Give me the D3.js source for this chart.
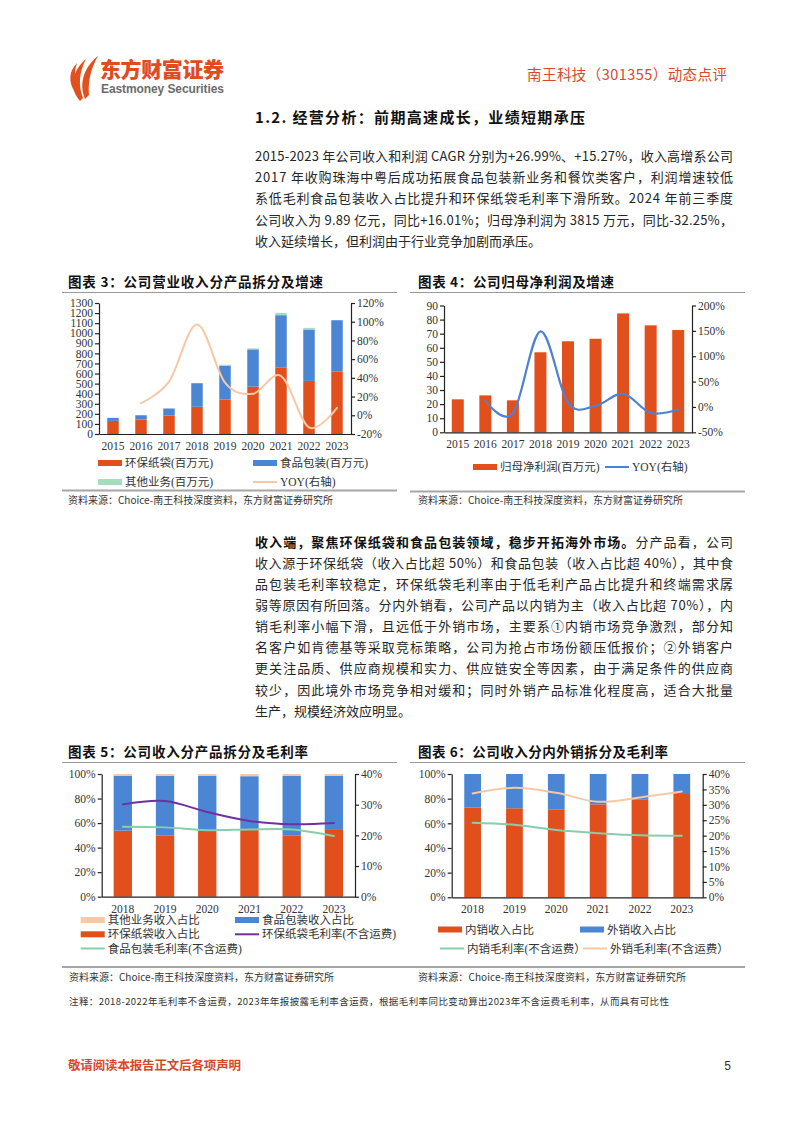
<!DOCTYPE html>
<html><head><meta charset="utf-8">
<script src="https://cdn.jsdelivr.net/npm/d3@7"></script>
<style>body{margin:0;background:#fff}</style>
</head><body>
<svg id="page" width="802" height="1133" xmlns="http://www.w3.org/2000/svg"></svg>
<script>
// ---------------- DATA ----------------
const years9 = ["2015","2016","2017","2018","2019","2020","2021","2022","2023"];
const paperRev = [130,143,183,270,343,470,658,527,619];      // 环保纸袋(百万元)
const foodRev  = [30,43,70,234,335,370,521,510,510];         // 食品包装(百万元)
const otherRev = [0,0,0,0,10,10,23,16,0];                     // 其他业务(百万元)
const revYoy   = [null,13,36,97,35,23,42,-13,8];              // YOY(右轴) %
const netProfit = [23.4,26.2,22.7,56.8,64.6,66.4,84.4,75.9,72.6]; // 归母净利润(百万元)
const profitYoy = [null,12,-13,149,8,2,26,-12,-5];            // YOY(右轴) %
const years6 = ["2018","2019","2020","2021","2022","2023"];
const paperShare = [53.8,49.7,53.8,54.4,49.7,54.4];   // 环保纸袋收入占比 %
const foodShare  = [44.6,48.7,44.6,43.8,48.7,44.0];   // 食品包装收入占比 %
const otherShare = [1.6,1.6,1.6,1.8,1.6,1.6];         // 其他业务收入占比 %
const paperGM = [30.1,31.2,27.6,24.7,23.6,24.0];      // 环保纸袋毛利率(不含运费)
const foodGM  = [22.8,22.6,21.7,21.9,21.9,19.8];      // 食品包装毛利率(不含运费)
const domShare = [72.7,72.2,71.4,75.4,79.5,83.8];     // 内销收入占比
const expShare = [27.3,27.8,28.6,24.6,20.5,16.2];     // 外销收入占比
const domGM = [24.2,23.5,21.8,20.8,20.1,20.0];        // 内销毛利率(不含运费)
const expGM = [33.7,35.5,33.9,31.0,32.4,34.3];        // 外销毛利率(不含运费)
const ticksRev = [0,100,200,300,400,500,600,700,800,900,1000,1100,1200,1300];
const ticksRevYoy = [-20,0,20,40,60,80,100,120];
const ticksProfit = [0,10,20,30,40,50,60,70,80,90];
const ticksProfitYoy = [-50,0,50,100,150,200];
const ticksPct = [0,20,40,60,80,100];
const ticksGM5 = [0,10,20,30,40];
const ticksGM6 = [0,5,10,15,20,25,30,35,40];

// ---------------- STYLE ----------------
const CJK = "'Noto Sans CJK SC', 'Noto Sans', sans-serif";
const SERIF = "'Liberation Serif', 'Noto Sans CJK SC', serif";
const C = {orange:"#E1501C", blue:"#4A86D4", mint:"#A5DCBD", peach:"#F7C8A6",
           purple:"#7030A0", green:"#86CFAA", lineBlue:"#4D82D2", red:"#D9472B"};

const svg = d3.select("#page");

function T(x, y, s, o = {}) {
  const t = svg.append("text").attr("x", x).attr("y", y).text(s)
    .attr("font-family", o.ff || CJK).attr("font-size", o.fs || 13)
    .attr("fill", o.fill || "#222");
  if (o.fw) t.attr("font-weight", o.fw);
  if (o.anchor) t.attr("text-anchor", o.anchor);
  if (o.len) t.attr("textLength", o.len).attr("lengthAdjust", "spacing");
  return t;
}
function hline(x1, x2, y, col, w) {
  svg.append("line").attr("x1", x1).attr("x2", x2).attr("y1", y).attr("y2", y)
    .attr("stroke", col).attr("stroke-width", w);
}

// ---------------- HEADER ----------------
const logo = svg.append("g").attr("fill", "#E2501E");
logo.append("path").attr("d", "M80,101 C69,88 71,72 86,59 C79,72 78,86 83,98 Z");
logo.append("path").attr("d", "M85,99 C79,84 83,68 98,56 C90,70 88,83 89,95 Z");
logo.append("path").attr("d", "M75,92 C68,82 69,71 77,63 C74,72 74,81 78,90 Z");
T(100, 77, "东方财富证券", {fs: 21, fw: 900, fill: "#E04B1F", len: 124});
T(101, 93, "Eastmoney Securities", {ff: "'Liberation Sans', Arial, sans-serif", fs: 12, fw: 700, fill: "#6b6b6b", len: 123});
T(727, 80, "南王科技（301355）动态点评", {fs: 14.5, fill: C.red, anchor: "end", len: 200});

// ---------------- HEADING & PARAGRAPH 1 ----------------
T(255, 123, "1.2.  经营分析：前期高速成长，业绩短期承压", {fs: 15, fw: 700, fill: "#111", len: 330});
const para1 = [
  "2015-2023 年公司收入和利润 CAGR 分别为+26.99%、+15.27%，收入高增系公司",
  "2017 年收购珠海中粤后成功拓展食品包装新业务和餐饮类客户，利润增速较低",
  "系低毛利食品包装收入占比提升和环保纸袋毛利率下滑所致。2024 年前三季度",
  "公司收入为 9.89 亿元，同比+16.01%；归母净利润为 3815 万元，同比-32.25%，",
  "收入延续增长，但利润由于行业竞争加剧而承压。"
];
para1.forEach((s, i) => T(255, 161 + i * 21.2, s, {fs: 13, fill: "#262626", len: i < 4 ? 478 : null}));

// ---------------- PARAGRAPH 2 ----------------
const p2first = svg.append("text").attr("x", 255).attr("y", 546.5)
  .attr("font-family", CJK).attr("font-size", 13).attr("fill", "#262626")
  .attr("textLength", 478).attr("lengthAdjust", "spacing");
p2first.append("tspan").attr("font-weight", 700).attr("fill", "#111").text("收入端，聚焦环保纸袋和食品包装领域，稳步开拓海外市场。");
p2first.append("tspan").text("分产品看，公司");
const para2 = [
  "收入源于环保纸袋（收入占比超 50%）和食品包装（收入占比超 40%），其中食",
  "品包装毛利率较稳定，环保纸袋毛利率由于低毛利产品占比提升和终端需求孱",
  "弱等原因有所回落。分内外销看，公司产品以内销为主（收入占比超 70%），内",
  "销毛利率小幅下滑，且远低于外销市场，主要系①内销市场竞争激烈，部分知",
  "名客户如肯德基等采取竞标策略，公司为抢占市场份额压低报价；②外销客户",
  "更关注品质、供应商规模和实力、供应链安全等因素，由于满足条件的供应商",
  "较少，因此境外市场竞争相对缓和；同时外销产品标准化程度高，适合大批量",
  "生产，规模经济效应明显。"
];
para2.forEach((s, i) => T(255, 546.5 + (i + 1) * 21.15, s, {fs: 13, fill: "#262626", len: i < 7 ? 478 : null}));

// ---------------- CHART HELPERS ----------------
function chart(cfg) {
  const g = svg.append("g");
  const x = d3.scaleBand().domain(cfg.cats).range([cfg.x0, cfg.x1]).paddingInner(cfg.pad).paddingOuter(cfg.pad / 2);
  const yL = d3.scaleLinear().domain(cfg.lDom).range([cfg.yBot, cfg.yTop]);
  const yR = d3.scaleLinear().domain(cfg.rDom).range([cfg.yBot, cfg.yTop]);

  // stacked bars
  const keys = cfg.stacks.map((s, i) => "k" + i);
  const table = cfg.cats.map((c, j) => {
    const row = {cat: c};
    cfg.stacks.forEach((s, i) => row["k" + i] = s.values[j]);
    return row;
  });
  const series = d3.stack().keys(keys)(table);
  series.forEach((ser, i) => {
    g.append("g").attr("fill", cfg.stacks[i].color).selectAll("rect").data(ser).join("rect")
      .attr("x", d => x(d.data.cat)).attr("width", x.bandwidth())
      .attr("y", d => yL(d[1])).attr("height", d => Math.max(0, yL(d[0]) - yL(d[1])));
  });

  // axes
  const axL = d3.axisLeft(yL).tickValues(cfg.lTicks).tickSize(4).tickSizeOuter(0).tickFormat(cfg.lFmt);
  const axR = d3.axisRight(yR).tickValues(cfg.rTicks).tickSize(4).tickSizeOuter(0).tickFormat(cfg.rFmt);
  const gl = g.append("g").attr("transform", `translate(${cfg.x0},0)`).call(axL);
  const gr = g.append("g").attr("transform", `translate(${cfg.x1},0)`).call(axR);
  const gb = g.append("g").attr("transform", `translate(0,${cfg.yBot})`)
    .call(d3.axisBottom(x).tickSize(0).tickSizeOuter(0).tickPadding(cfg.bPad || 8));
  [gl, gr, gb].forEach(a => {
    a.selectAll("path,line").attr("stroke", "#222").attr("stroke-width", 1.2);
    a.selectAll("text").attr("font-family", SERIF).attr("font-size", 11.5).attr("fill", "#333");
  });
  gl.selectAll("text").attr("x", -6);
  gr.selectAll("text").attr("x", 6);

  // lines
  cfg.lines.forEach(l => {
    const line = d3.line().defined(d => d.v != null)
      .x(d => x(d.c) + x.bandwidth() / 2).y(d => yR(d.v))
      .curve(d3.curveCardinal.tension(0));
    g.append("path").datum(cfg.cats.map((c, j) => ({c, v: l.values[j]})))
      .attr("d", line).attr("fill", "none").attr("stroke", l.color)
      .attr("stroke-width", l.width || 2).attr("stroke-linecap", "round");
  });
  return g;
}
function legRect(x, y, color, label) {
  svg.append("rect").attr("x", x).attr("y", y - 3).attr("width", 24).attr("height", 6).attr("fill", color);
  T(x + 27, y + 4, label, {ff: SERIF, fs: 11.5, fill: "#333"});
}
function legLine(x, y, color, label) {
  svg.append("line").attr("x1", x).attr("x2", x + 24).attr("y1", y).attr("y2", y)
    .attr("stroke", color).attr("stroke-width", 2);
  T(x + 27, y + 4, label, {ff: SERIF, fs: 11.5, fill: "#333"});
}
const pctFmt = d => d + "%";

// ---------------- CHART 3 ----------------
T(68, 287, "图表 3：公司营业收入分产品拆分及增速", {fs: 13.5, fw: 700, fill: "#111", len: 255});
hline(62, 397, 292.5, "#9a9a9a", 1);
chart({cats: years9, x0: 99, x1: 351, yTop: 303, yBot: 434, pad: 0.59,
  lDom: [0, 1300], lTicks: ticksRev, lFmt: d => d,
  rDom: [-20, 120], rTicks: ticksRevYoy, rFmt: pctFmt,
  stacks: [{values: paperRev, color: C.orange}, {values: foodRev, color: C.blue}, {values: otherRev, color: C.mint}],
  lines: [{values: revYoy, color: C.peach, width: 2}]});
legRect(98, 463, C.orange, "环保纸袋(百万元)");
legRect(253, 463, C.blue, "食品包装(百万元)");
legRect(98, 482, C.mint, "其他业务(百万元)");
legLine(253, 482, C.peach, "YOY(右轴)");
hline(62, 397, 490.5, "#a6a6a6", 2);
T(68, 504, "资料来源：Choice-南王科技深度资料，东方财富证券研究所", {fs: 10, fill: "#333", len: 265});

// ---------------- CHART 4 ----------------
T(418, 287, "图表 4：公司归母净利润及增速", {fs: 13.5, fw: 700, fill: "#111", len: 196});
hline(410, 745, 292.5, "#9a9a9a", 1);
chart({cats: years9, x0: 444, x1: 692, yTop: 305.5, yBot: 432.3, pad: 0.565,
  lDom: [0, 90], lTicks: ticksProfit, lFmt: d => d,
  rDom: [-50, 200], rTicks: ticksProfitYoy, rFmt: pctFmt,
  stacks: [{values: netProfit, color: C.orange}],
  lines: [{values: profitYoy, color: C.lineBlue, width: 2.2}]});
legRect(473, 467, C.orange, "归母净利润(百万元)");
legLine(605, 467, C.lineBlue, "YOY(右轴)");
hline(410, 745, 491.5, "#a6a6a6", 2);
T(418, 504, "资料来源：Choice-南王科技深度资料，东方财富证券研究所", {fs: 10, fill: "#333", len: 265});

// ---------------- CHART 5 ----------------
T(68, 757, "图表 5：公司收入分产品拆分及毛利率", {fs: 13.5, fw: 700, fill: "#111", len: 240});
hline(62, 397, 762.5, "#9a9a9a", 1);
chart({cats: years6, x0: 101.7, x1: 355, yTop: 774, yBot: 896.7, pad: 0.566, bPad: 8,
  lDom: [0, 100], lTicks: ticksPct, lFmt: pctFmt,
  rDom: [0, 40], rTicks: ticksGM5, rFmt: pctFmt,
  stacks: [{values: paperShare, color: C.orange}, {values: foodShare, color: C.blue}, {values: otherShare, color: C.peach}],
  lines: [{values: paperGM, color: C.purple, width: 2}, {values: foodGM, color: C.green, width: 2}]});
legRect(80.7, 920, C.peach, "其他业务收入占比");
legRect(235, 920, C.blue, "食品包装收入占比");
legRect(80.7, 934.3, C.orange, "环保纸袋收入占比");
legLine(235, 934.3, C.purple, "环保纸袋毛利率(不含运费)");
legLine(80.7, 948.5, C.green, "食品包装毛利率(不含运费)");

// ---------------- CHART 6 ----------------
T(418, 757, "图表 6：公司收入分内外销拆分及毛利率", {fs: 13.5, fw: 700, fill: "#111", len: 250});
hline(410, 745, 762.5, "#9a9a9a", 1);
chart({cats: years6, x0: 451.7, x1: 702.7, yTop: 774, yBot: 897.3, pad: 0.6, bPad: 8,
  lDom: [0, 100], lTicks: ticksPct, lFmt: pctFmt,
  rDom: [0, 40], rTicks: ticksGM6, rFmt: pctFmt,
  stacks: [{values: domShare, color: C.orange}, {values: expShare, color: C.blue}],
  lines: [{values: expGM, color: C.peach, width: 2}, {values: domGM, color: C.green, width: 2}]});
legRect(438, 929.5, C.orange, "内销收入占比");
legRect(580, 929.5, C.blue, "外销收入占比");
legLine(440, 948.5, C.green, "内销毛利率(不含运费）");
legLine(583, 948.5, C.peach, "外销毛利率(不含运费）");

hline(62, 745, 967, "#a6a6a6", 2);
T(69, 981, "资料来源：Choice-南王科技深度资料，东方财富证券研究所", {fs: 10, fill: "#333", len: 265});
T(418, 981, "资料来源：Choice-南王科技深度资料，东方财富证券研究所", {fs: 10, fill: "#333", len: 268});
T(69, 1005, "注释：2018-2022年毛利率不含运费，2023年年报披露毛利率含运费，根据毛利率同比变动算出2023年不含运费毛利率，从而具有可比性", {fs: 9.5, fill: "#333", len: 600});

// ---------------- FOOTER ----------------
T(68, 1070, "敬请阅读本报告正文后各项声明", {fs: 12.5, fw: 700, fill: C.red, len: 173});
T(731, 1070, "5", {ff: "'Liberation Sans', Arial, sans-serif", fs: 12, fill: "#333", anchor: "end"});
</script>
</body></html>
